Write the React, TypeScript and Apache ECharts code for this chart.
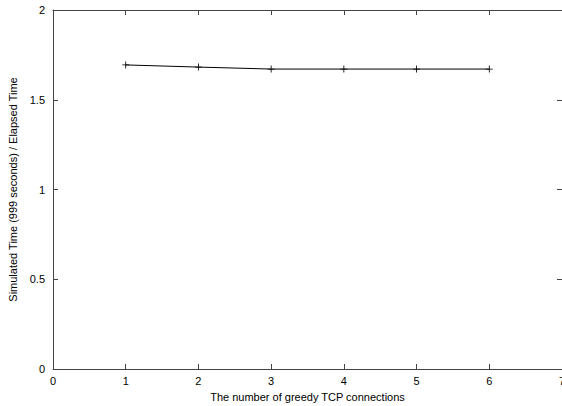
import React, { useEffect, useRef } from "react";
import * as echarts from "echarts";

const connections = [1, 2, 3, 4, 5, 6];
const ratio = [1.694, 1.682, 1.671, 1.671, 1.671, 1.671];
const xTicks = [0, 1, 2, 3, 4, 5, 6, 7];
const yTicks = [0, 0.5, 1, 1.5, 2];

const FONT = "'Liberation Sans', Arial, Helvetica, sans-serif";
const AXIS = "#444";

function axisBase(extra: any) {
  return {
    type: "value",
    axisLine: { show: true, onZero: false, lineStyle: { color: AXIS, width: 1 } },
    axisTick: { show: true, inside: true, length: 5, lineStyle: { color: AXIS, width: 1 } },
    splitLine: { show: false },
    ...extra,
  };
}

export default function App() {
  const ref = useRef<HTMLDivElement>(null);
  useEffect(() => {
    const chart = echarts.init(ref.current!, undefined, { renderer: "svg" });
    chart.setOption({
      animation: false,
      backgroundColor: "#fff",
      grid: { left: 53, right: 0, top: 10, bottom: 37, containLabel: false, outerBoundsMode: "none" },
      xAxis: [
        axisBase({
          min: xTicks[0],
          max: xTicks[xTicks.length - 1],
          interval: 1,
          position: "bottom",
          axisLabel: { color: "#000", fontFamily: FONT, fontSize: 11, margin: 6 },
          name: "The number of greedy TCP connections",
          nameLocation: "middle",
          nameGap: 22,
          nameTextStyle: { color: "#000", fontFamily: FONT, fontSize: 11 },
        }),
        axisBase({
          min: xTicks[0],
          max: xTicks[xTicks.length - 1],
          interval: 1,
          position: "top",
          axisLabel: { show: false },
        }),
      ],
      yAxis: [
        axisBase({
          min: yTicks[0],
          max: yTicks[yTicks.length - 1],
          interval: 0.5,
          position: "left",
          axisLabel: { color: "#000", fontFamily: FONT, fontSize: 11, margin: 8 },
          name: "Simulated Time (999 seconds) / Elapsed Time",
          nameLocation: "middle",
          nameGap: 35,
          nameRotate: 90,
          nameTextStyle: { color: "#000", fontFamily: FONT, fontSize: 11 },
        }),
        axisBase({
          min: yTicks[0],
          max: yTicks[yTicks.length - 1],
          interval: 0.5,
          position: "right",
          axisLabel: { show: false },
        }),
      ],
      series: [
        {
          type: "line",
          xAxisIndex: 0,
          yAxisIndex: 0,
          data: connections.map((c, i) => [c, ratio[i]]),
          symbol: "path://M4.4,0H5.6V4.4H10V5.6H5.6V10H4.4V5.6H0V4.4H4.4Z",
          symbolSize: 7,
          itemStyle: { color: "#000" },
          lineStyle: { color: "#000", width: 1 },
        },
      ],
    });
    return () => chart.dispose();
  }, []);
  return <div ref={ref} style={{ width: 562, height: 406, position: "absolute", left: 0, top: 0 }} />;
}
